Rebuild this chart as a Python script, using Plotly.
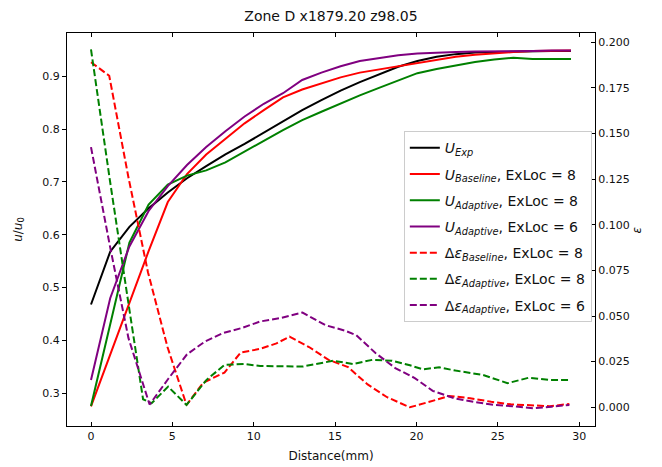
import plotly.graph_objects as go

# Velocity profiles (left axis) sampled along the traverse
dist_u = [0.0, 1.18, 2.36, 3.54, 4.72, 5.9, 7.08, 8.26, 9.44, 10.62, 11.8, 12.98, 14.16,
          15.34, 16.52, 17.7, 18.88, 20.06, 21.24, 22.42, 23.6, 24.78, 25.96, 27.14, 28.32, 29.5]
u_exp = [0.468, 0.568, 0.615, 0.650, 0.680, 0.707, 0.730, 0.752, 0.772, 0.793, 0.815, 0.836, 0.855,
         0.873, 0.889, 0.904, 0.918, 0.929, 0.937, 0.942, 0.945, 0.946, 0.947, 0.948, 0.948, 0.948]
u_base8 = [0.275, 0.373, 0.471, 0.569, 0.662, 0.715, 0.752, 0.782, 0.811, 0.836, 0.860, 0.875, 0.887,
           0.898, 0.907, 0.913, 0.920, 0.926, 0.932, 0.937, 0.941, 0.944, 0.946, 0.948, 0.949, 0.949]
u_adapt8 = [0.276, 0.430, 0.585, 0.657, 0.695, 0.712, 0.722, 0.737, 0.758, 0.778, 0.798, 0.817, 0.833,
            0.849, 0.864, 0.878, 0.892, 0.906, 0.914, 0.921, 0.927, 0.932, 0.935, 0.933, 0.933, 0.933]
u_adapt6 = [0.325, 0.480, 0.578, 0.645, 0.692, 0.732, 0.766, 0.796, 0.824, 0.848, 0.868, 0.893, 0.907,
            0.919, 0.929, 0.935, 0.940, 0.943, 0.945, 0.946, 0.947, 0.947, 0.948, 0.948, 0.949, 0.949]

# Error curves (right axis)
dist_eb8 = [0.0, 1.12, 2.3, 3.5, 4.7, 5.87, 6.9, 8.2, 9.2, 10.4, 11.4, 12.2, 13.4, 14.6, 15.8,
            17.0, 18.2, 19.6, 20.8, 22.0, 23.3, 24.6, 25.8, 27.0, 28.2, 29.4]
eps_base8 = [0.189, 0.1816, 0.126, 0.074, 0.033, 0.0013, 0.0135, 0.019, 0.030, 0.032, 0.035, 0.0387,
             0.033, 0.026, 0.022, 0.0125, 0.0055, 0.0, 0.003, 0.0062, 0.005, 0.003, 0.0016, 0.0012,
             0.0006, 0.0018]
dist_ea8 = [0.0, 1.15, 2.3, 3.2, 3.72, 4.74, 5.87, 7.1, 8.2, 9.4, 10.4, 11.6, 13.0, 14.9, 16.1,
            17.3, 18.5, 19.6, 20.4, 21.4, 22.4, 24.1, 25.6, 26.9, 28.2, 29.4]
eps_adapt8 = [0.196, 0.125, 0.057, 0.0044, 0.0022, 0.0113, 0.0013, 0.015, 0.0232, 0.0237, 0.0226,
              0.0226, 0.0223, 0.0255, 0.0237, 0.026, 0.0255, 0.023, 0.0208, 0.0219, 0.0201, 0.0177,
              0.0132, 0.0162, 0.015, 0.015]
dist_ea6 = [0.0, 1.17, 2.3, 3.6, 4.74, 5.9, 7.0, 8.1, 9.3, 10.4, 11.6, 13.0, 14.4, 15.6, 16.3,
            17.5, 18.7, 19.9, 21.0, 22.3, 23.5, 24.8, 26.0, 27.2, 28.3, 29.4]
eps_adapt6 = [0.1425, 0.088, 0.038, 0.0015, 0.0155, 0.029, 0.036, 0.0406, 0.0435, 0.047, 0.0488,
              0.0519, 0.045, 0.042, 0.0395, 0.0296, 0.0215, 0.016, 0.009, 0.005, 0.003, 0.0013,
              0.0005, -0.0005, 0.0003, 0.0013]

FONT = "DejaVu Sans"
DASH = "7px,3px"
LW = 2

series = [
    (dist_u, u_exp, "black", "solid", "y", "<i>U</i><sub><i>Exp</i></sub>"),
    (dist_u, u_base8, "#ff0000", "solid", "y", "<i>U</i><sub><i>Baseline</i></sub>, ExLoc = 8"),
    (dist_u, u_adapt8, "#008000", "solid", "y", "<i>U</i><sub><i>Adaptive</i></sub>, ExLoc = 8"),
    (dist_u, u_adapt6, "#800080", "solid", "y", "<i>U</i><sub><i>Adaptive</i></sub>, ExLoc = 6"),
    (dist_eb8, eps_base8, "#ff0000", DASH, "y2", "Δ<i>ε</i><sub><i>Baseline</i></sub>, ExLoc = 8"),
    (dist_ea8, eps_adapt8, "#008000", DASH, "y2", "Δ<i>ε</i><sub><i>Adaptive</i></sub>, ExLoc = 8"),
    (dist_ea6, eps_adapt6, "#800080", DASH, "y2", "Δ<i>ε</i><sub><i>Adaptive</i></sub>, ExLoc = 6"),
]

fig = go.Figure()
for i, (x, y, color, dash, axis, name) in enumerate(series):
    fig.add_trace(go.Scatter(
        x=x, y=y, mode="lines", name=name, yaxis=axis,
        line=dict(color=color, width=LW, dash=dash),
        legendgroup=f"g{i}",
    ))

# right-axis label placed just outside the tick labels
fig.add_annotation(
    text="<i>ε</i>", xref="paper", yref="paper", x=1.0795, y=0.5,
    xanchor="center", yanchor="middle", textangle=-90, showarrow=False,
    font=dict(family=FONT, size=12, color="#111111"),
)

fig.update_layout(
    width=662, height=467,
    margin=dict(l=67, r=67, t=33, b=41, autoexpand=False),
    paper_bgcolor="white", plot_bgcolor="white",
    font=dict(family=FONT, size=11, color="#111111"),
    title=dict(text="Zone D x1879.20 z98.05", x=0.5, xanchor="center",
               y=1 - 16 / 467, yanchor="middle", font=dict(family=FONT, size=14, color="#111111")),
    showlegend=True,
    legend=dict(
        x=0.994, xanchor="right", y=0.75, yanchor="top",
        bgcolor="rgba(255,255,255,0.85)", bordercolor="#cccccc", borderwidth=1,
        font=dict(family=FONT, size=14, color="#111111"),
        tracegroupgap=5, itemwidth=30,
    ),
    xaxis=dict(
        range=[-1.475, 30.975], dtick=5, tick0=0,
        ticks="inside", ticklen=4, tickcolor="black", tickwidth=1,
        showline=True, linecolor="black", linewidth=1, mirror="ticks",
        showgrid=False, zeroline=False, automargin=False,
        title=dict(text="Distance(mm)", font=dict(family=FONT, size=12), standoff=9),
    ),
    yaxis=dict(
        range=[0.238, 0.982], dtick=0.1, tick0=0,
        ticks="outside", ticklen=4, tickcolor="black", tickwidth=1,
        showline=True, linecolor="black", linewidth=1,
        showgrid=False, zeroline=False, tickformat=".1f", automargin=False,
        title=dict(text="<i>u</i>/<i>u</i><sub>0</sub>", font=dict(family=FONT, size=12), standoff=17),
    ),
    yaxis2=dict(
        range=[-0.01025, 0.205], dtick=0.025, tick0=0,
        overlaying="y", side="right",
        ticks="inside", ticklen=4, tickcolor="black", tickwidth=1,
        showline=True, linecolor="black", linewidth=1,
        showgrid=False, zeroline=False, tickformat=".3f", automargin=False,
    ),
)

fig.write_html("out.html")
